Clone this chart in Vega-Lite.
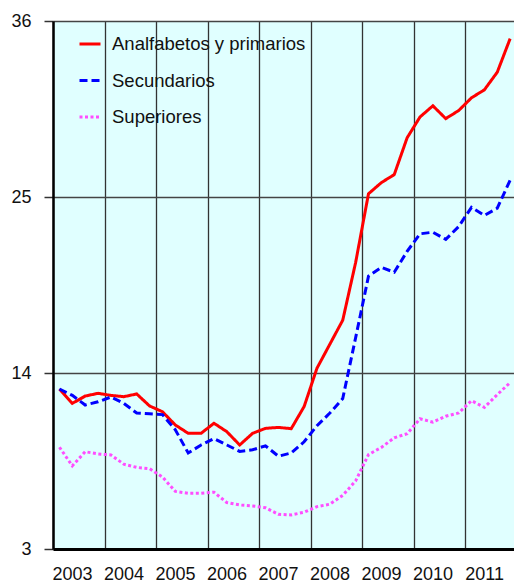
{
  "$schema": "https://vega.github.io/schema/vega-lite/v6.json",
  "autosize": {"type": "none"},
  "padding": {"left": 53, "top": 21, "right": 0, "bottom": 34},
  "width": 461,
  "height": 528,
  "background": "white",
  "config": {
    "view": {"fill": "#e0ffff", "stroke": null},
    "font": "Liberation Sans",
    "axis": {"labelFont": "Liberation Sans", "labelFontSize": 18, "labelColor": "#111", "title": null}
  },
  "data": {
    "values": [
      {"t": 2003.125, "Analfabetos y primarios": 13.0, "Secundarios": 13.0, "Superiores": 9.36},
      {"t": 2003.375, "Analfabetos y primarios": 12.1, "Secundarios": 12.6, "Superiores": 8.2},
      {"t": 2003.625, "Analfabetos y primarios": 12.56, "Secundarios": 12.0, "Superiores": 9.08},
      {"t": 2003.875, "Analfabetos y primarios": 12.73, "Secundarios": 12.2, "Superiores": 8.94},
      {"t": 2004.125, "Analfabetos y primarios": 12.6, "Secundarios": 12.5, "Superiores": 8.88},
      {"t": 2004.375, "Analfabetos y primarios": 12.52, "Secundarios": 12.1, "Superiores": 8.3},
      {"t": 2004.625, "Analfabetos y primarios": 12.69, "Secundarios": 11.5, "Superiores": 8.1},
      {"t": 2004.875, "Analfabetos y primarios": 11.94, "Secundarios": 11.45, "Superiores": 8.02},
      {"t": 2005.125, "Analfabetos y primarios": 11.58, "Secundarios": 11.4, "Superiores": 7.5},
      {"t": 2005.375, "Analfabetos y primarios": 10.75, "Secundarios": 10.45, "Superiores": 6.6},
      {"t": 2005.625, "Analfabetos y primarios": 10.23, "Secundarios": 9.0, "Superiores": 6.48},
      {"t": 2005.875, "Analfabetos y primarios": 10.23, "Secundarios": 9.5, "Superiores": 6.48},
      {"t": 2006.125, "Analfabetos y primarios": 10.86, "Secundarios": 9.9, "Superiores": 6.55},
      {"t": 2006.375, "Analfabetos y primarios": 10.33, "Secundarios": 9.5, "Superiores": 5.9},
      {"t": 2006.625, "Analfabetos y primarios": 9.5, "Secundarios": 9.1, "Superiores": 5.75},
      {"t": 2006.875, "Analfabetos y primarios": 10.23, "Secundarios": 9.2, "Superiores": 5.69},
      {"t": 2007.125, "Analfabetos y primarios": 10.54, "Secundarios": 9.45, "Superiores": 5.58},
      {"t": 2007.375, "Analfabetos y primarios": 10.6, "Secundarios": 8.8, "Superiores": 5.17},
      {"t": 2007.625, "Analfabetos y primarios": 10.52, "Secundarios": 9.0, "Superiores": 5.13},
      {"t": 2007.875, "Analfabetos y primarios": 11.9, "Secundarios": 9.7, "Superiores": 5.3},
      {"t": 2008.125, "Analfabetos y primarios": 14.3, "Secundarios": 10.7, "Superiores": 5.65},
      {"t": 2008.375, "Analfabetos y primarios": 15.8, "Secundarios": 11.5, "Superiores": 5.8},
      {"t": 2008.625, "Analfabetos y primarios": 17.3, "Secundarios": 12.4, "Superiores": 6.35},
      {"t": 2008.875, "Analfabetos y primarios": 20.9, "Secundarios": 16.2, "Superiores": 7.25},
      {"t": 2009.125, "Analfabetos y primarios": 25.2, "Secundarios": 20.05, "Superiores": 8.9},
      {"t": 2009.375, "Analfabetos y primarios": 25.9, "Secundarios": 20.6, "Superiores": 9.35},
      {"t": 2009.625, "Analfabetos y primarios": 26.4, "Secundarios": 20.3, "Superiores": 9.95},
      {"t": 2009.875, "Analfabetos y primarios": 28.7, "Secundarios": 21.6, "Superiores": 10.2},
      {"t": 2010.125, "Analfabetos y primarios": 30.0, "Secundarios": 22.7, "Superiores": 11.14},
      {"t": 2010.375, "Analfabetos y primarios": 30.7, "Secundarios": 22.8, "Superiores": 10.93},
      {"t": 2010.625, "Analfabetos y primarios": 29.9, "Secundarios": 22.35, "Superiores": 11.3},
      {"t": 2010.875, "Analfabetos y primarios": 30.4, "Secundarios": 23.15, "Superiores": 11.5},
      {"t": 2011.125, "Analfabetos y primarios": 31.2, "Secundarios": 24.35, "Superiores": 12.27},
      {"t": 2011.375, "Analfabetos y primarios": 31.7, "Secundarios": 23.85, "Superiores": 11.85},
      {"t": 2011.625, "Analfabetos y primarios": 32.8, "Secundarios": 24.3, "Superiores": 12.65},
      {"t": 2011.875, "Analfabetos y primarios": 34.9, "Secundarios": 26.05, "Superiores": 13.4}
    ]
  },
  "transform": [
    {"fold": ["Analfabetos y primarios", "Secundarios", "Superiores"], "as": ["serie", "valor"]}
  ],
  "mark": {"type": "line", "strokeWidth": 3, "clip": true},
  "encoding": {
    "x": {
      "field": "t",
      "type": "quantitative",
      "scale": {"domain": [2003, 2011.95], "nice": false, "zero": false},
      "axis": {
        "values": [2003, 2004, 2005, 2006, 2007, 2008, 2009, 2010, 2011],
        "format": "d",
        "labelOffset": 19,
        "labelFlush": false,
        "labelOverlap": false,
        "tickSize": 0,
        "labelPadding": 16,
        "domainColor": "#000",
        "domainWidth": 3,
        "grid": true,
        "gridColor": "#333",
        "gridWidth": 1.3,
        "gridOpacity": 1
      }
    },
    "y": {
      "field": "valor",
      "type": "quantitative",
      "scale": {"domain": [3, 36], "nice": false, "zero": false},
      "axis": {
        "values": [3, 14, 25, 36],
        "tickSize": 9,
        "tickColor": "#333",
        "tickWidth": 1.5,
        "labelPadding": 13,
        "domainColor": "#000",
        "domainWidth": 2.5,
        "grid": true,
        "gridColor": "#444",
        "gridWidth": 1.5,
        "gridOpacity": 1
      }
    },
    "color": {
      "field": "serie",
      "type": "nominal",
      "scale": {
        "domain": ["Analfabetos y primarios", "Secundarios", "Superiores"],
        "range": ["#ff0000", "#0000ff", "#ff4dff"]
      },
      "legend": {
        "title": null,
        "orient": "none",
        "legendX": 25,
        "legendY": 11,
        "padding": 0,
        "symbolType": "stroke",
        "symbolSize": 441,
        "symbolStrokeWidth": 3,
        "labelFont": "Liberation Sans",
        "labelFontSize": 18.5,
        "labelColor": "#111",
        "labelOffset": 10,
        "labelLimit": 400,
        "rowPadding": 14.5,
        "fillColor": null,
        "strokeColor": null
      }
    },
    "strokeDash": {
      "field": "serie",
      "type": "nominal",
      "scale": {
        "domain": ["Analfabetos y primarios", "Secundarios", "Superiores"],
        "range": [[1, 0], [8, 4], [3, 2.5]]
      },
      "legend": null
    }
  }
}
